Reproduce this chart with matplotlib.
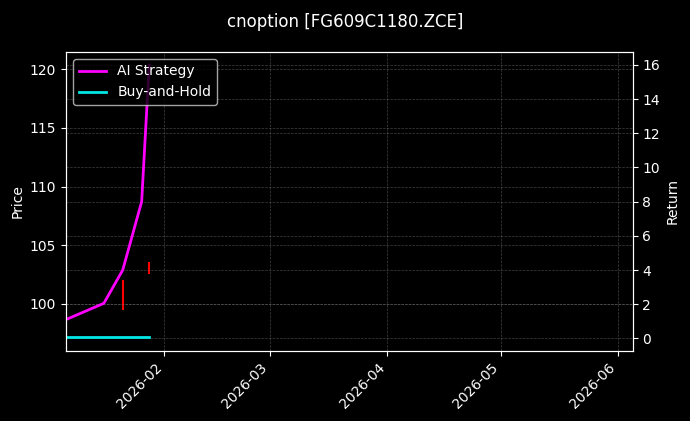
import numpy as np
import pandas as pd
import matplotlib
matplotlib.use("Agg")
import matplotlib.pyplot as plt
import matplotlib.dates as mdates

# data
dates = pd.to_datetime(["2026-01-06", "2026-01-16", "2026-01-21", "2026-01-26", "2026-01-28"])
ai_return = [1.1, 2.05, 4.0, 8.0, 16.0]
bh_return = [0.05, 0.05, 0.05, 0.05, 0.05]

candle_dates = pd.to_datetime(["2026-01-21", "2026-01-28"])
candle_low = [99.5, 102.55]
candle_high = [102.05, 103.6]

title = "cnoption [FG609C1180.ZCE]"

plt.style.use("dark_background")
fig = plt.figure(figsize=(6.9, 4.21), dpi=100)
ax = fig.add_axes([0.0957, 0.1663, 0.8211, 0.7102])
ax2 = ax.twinx()

# price candles on the left axis
ax.vlines(candle_dates, candle_low, candle_high, color="red", linewidth=1.5)

# returns on the right axis
l1, = ax2.plot(dates, ai_return, color="#ff00ff", linewidth=2, label="AI Strategy")
l2, = ax2.plot(dates, bh_return, color="#00e5e5", linewidth=2, label="Buy-and-Hold")

ax.set_xlim(pd.Timestamp("2026-01-06"), pd.Timestamp("2026-06-04 20:00"))
ax.set_ylim(95.99, 121.47)
ax2.set_ylim(-0.74, 16.76)

ax.set_ylabel("Price")
ax2.set_ylabel("Return")

ax.grid(True, color="gray", linestyle="--", linewidth=0.5, alpha=0.5)
ax2.grid(True, color="gray", linestyle="--", linewidth=0.5, alpha=0.5)

ax.xaxis.set_major_locator(mdates.MonthLocator())
ax.xaxis.set_major_formatter(mdates.DateFormatter("%Y-%m"))
plt.setp(ax.get_xticklabels(), rotation=45, ha="right")

ax2.legend(handles=[l1, l2], loc="upper left")
fig.suptitle(title, y=0.97)

fig.savefig("out.png", dpi=100, facecolor="black")
